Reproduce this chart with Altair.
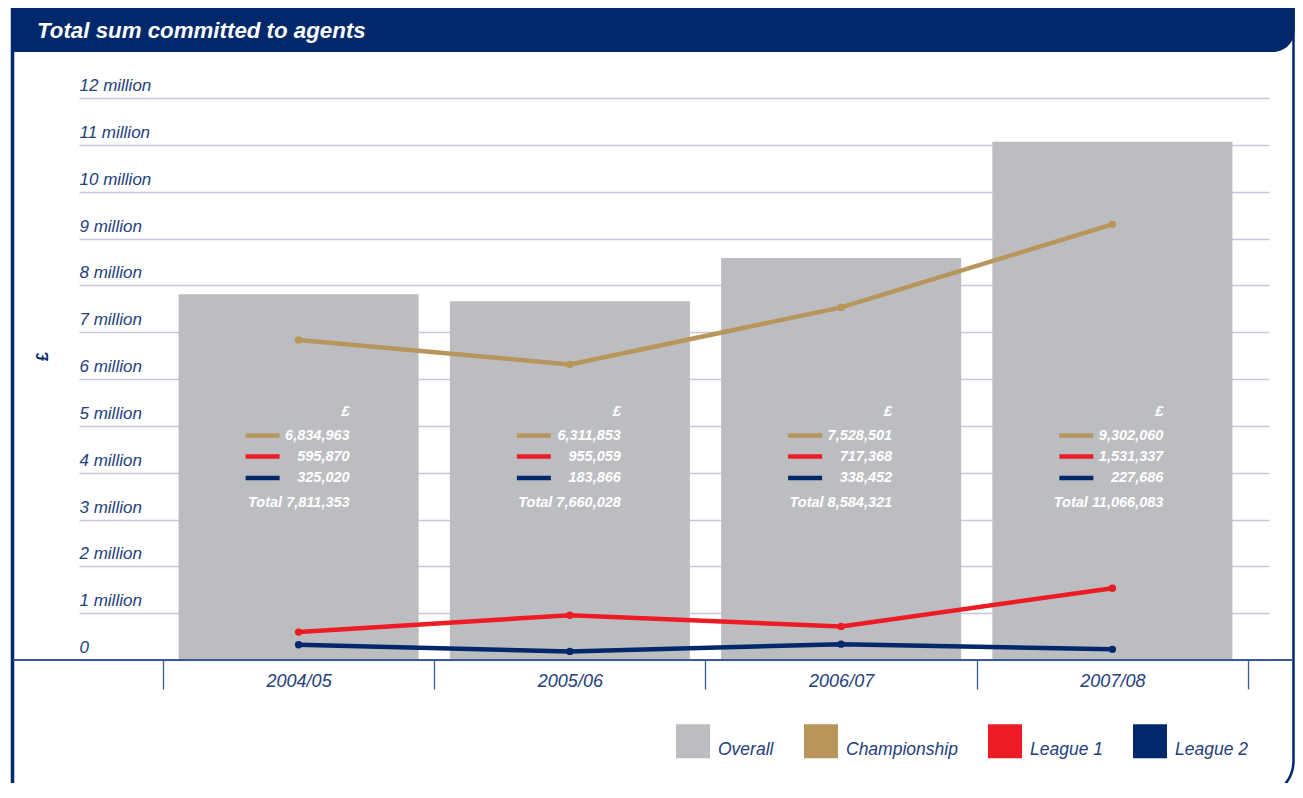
import altair as alt
import pandas as pd

# ---------------- data ----------------
years = ["2004/05", "2005/06", "2006/07", "2007/08"]
overall = [7811353, 7660028, 8584321, 11066083]
championship = [6834963, 6311853, 7528501, 9302060]
league1 = [595870, 955059, 717368, 1531337]
league2 = [325020, 183866, 338452, 227686]

series_names = ["Overall", "Championship", "League 1", "League 2"]
series_colors = ["#bcbdc1", "#b8955a", "#ed1c24", "#00286b"]
y_tick_values = [0, 1000000, 2000000, 3000000, 4000000, 5000000, 6000000,
                 7000000, 8000000, 9000000, 10000000, 11000000, 12000000]

NAVY = "#00286b"
TEXT = "#24407c"
AXIS = "#3b5b96"
GRID = "#c5c8dd"
FONT = "Liberation Sans"

bars_df = pd.DataFrame({"year": years, "series": "Overall", "value": overall})
lines_df = pd.concat([
    pd.DataFrame({"year": years, "series": "Championship", "value": championship}),
    pd.DataFrame({"year": years, "series": "League 1", "value": league1}),
    pd.DataFrame({"year": years, "series": "League 2", "value": league2}),
], ignore_index=True)

blank = alt.Data(values=[{}])

x_scale = alt.Scale(domain=years, paddingInner=0, paddingOuter=0.1935, align=0.8)
y_scale = alt.Scale(domain=[0, 12000000], nice=False)

x_axis = alt.Axis(
    title=None, domain=False, grid=False, tickBand="extent", tickSize=29,
    tickColor=AXIS, tickWidth=1.3, labelAngle=0, labelFont=FONT,
    labelFontSize=18, labelFontStyle="italic", labelColor=TEXT,
    labelPadding=-3, labelBaseline="alphabetic")
y_axis = alt.Axis(
    values=y_tick_values,
    labelExpr="datum.value == 0 ? '0' : format(datum.value / 1000000, 'd') + ' million'",
    labelAlign="left", labelPadding=0, ticks=False, tickSize=0, domain=False,
    grid=True, gridColor=GRID, gridWidth=1.5, labelFont=FONT, labelFontSize=17,
    labelFontStyle="italic", labelColor=TEXT, labelBaseline="alphabetic",
    labelOffset=-7.5, labelFlush=False, labelOverlap=False,
    title="£", titleAngle=270, titleX=-37, titleY=258, titleFont=FONT,
    titleFontSize=16, titleFontWeight="bold", titleColor=NAVY,
    titleAlign="center", titleBaseline="middle")

xa = alt.X("year:N", scale=x_scale, sort=years, axis=x_axis)
ya = alt.Y("value:Q", scale=y_scale, axis=y_axis)

# ---------------- decoration ----------------
frame = alt.Chart(blank).mark_rect(
    fillOpacity=0, stroke=NAVY, strokeWidth=2.5, cornerRadiusBottomRight=36
).encode(x=alt.value(-66.5), x2=alt.value(1214.5), y=alt.value(-89), y2=alt.value(699))

left_border = alt.Chart(blank).mark_rule(color=NAVY, strokeWidth=3.5).encode(
    x=alt.value(-66.5), y=alt.value(-90), y2=alt.value(700))

title_bar = alt.Chart(blank).mark_rect(
    color=NAVY, cornerRadiusBottomRight=38
).encode(x=alt.value(-68), x2=alt.value(1215.75), y=alt.value(-90), y2=alt.value(-46))

title_text = alt.Chart(blank).mark_text(
    text="Total sum committed to agents", align="left", baseline="alphabetic",
    font=FONT, fontSize=22.3, fontWeight="bold", fontStyle="italic", color="white"
).encode(x=alt.value(-42), y=alt.value(-60.3))

# ---------------- bars ----------------
bars = alt.Chart(bars_df).mark_bar(width=alt.RelativeBandSize(0.885)).encode(
    x=xa,
    y=ya,
    fill=alt.Fill("series:N", scale=alt.Scale(domain=series_names, range=series_colors),
                  legend=alt.Legend(
                      orient="none", legendX=597, legendY=626, direction="horizontal",
                      title=None, symbolType="square", symbolSize=1156,
                      symbolStrokeWidth=0, symbolOpacity=1, labelFont=FONT,
                      labelFontSize=17.5, labelFontStyle="italic", labelColor=TEXT,
                      labelOffset=8, columnPadding=30, labelBaseline="top", padding=0)),
)

baseline = alt.Chart(blank).mark_rule(color=AXIS, strokeWidth=1.8).encode(
    x=alt.value(-66), x2=alt.value(1214), y=alt.value(562))

# ---------------- lines ----------------
lines = alt.Chart(lines_df).mark_line(
    strokeWidth=4.5, point=alt.OverlayMarkDef(filled=True, size=55, opacity=1)
).encode(
    x=xa,
    y=ya,
    color=alt.Color("series:N", scale=alt.Scale(domain=series_names[1:], range=series_colors[1:]),
                    legend=None),
)

# ---------------- in-bar annotations ----------------
txt_style = dict(align="right", baseline="middle", dx=51, font=FONT, fontSize=14.5,
                 fontStyle="italic", fontWeight="bold", color="white")

pound = alt.Chart(bars_df).mark_text(text="£", **txt_style).encode(x=xa, y=alt.value(314))

swatch_shape = "M-2.65,-0.11L-0.95,-0.11L-0.95,0.11L-2.65,0.11Z"
row_layers = []
row_y = [337.5, 358.5, 380]
for name, col, ry in zip(series_names[1:], series_colors[1:], row_y):
    sub = lines_df[lines_df["series"] == name]
    row_layers.append(alt.Chart(sub).mark_point(
        shape=swatch_shape, size=1600, filled=True, strokeWidth=0, opacity=1, color=col
    ).encode(x=xa, y=alt.value(ry)))
    row_layers.append(alt.Chart(sub).mark_text(**txt_style).encode(
        x=xa, y=alt.value(ry), text=alt.Text("value:Q", format=",d")))

total_txt = alt.Chart(bars_df).transform_calculate(
    label="'Total ' + format(datum.value, ',d')"
).mark_text(**txt_style).encode(x=xa, y=alt.value(405), text="label:N")

chart = alt.layer(
    frame, left_border, title_bar, bars, baseline, lines, pound, *row_layers, total_txt, title_text
).properties(
    width=1190, height=562,
    padding={"left": 71, "top": 90, "right": 26, "bottom": 123},
    autosize=alt.AutoSizeParams(type="none"),
).configure(background="white", font=FONT).configure_view(stroke=None)

chart.save("out.html", embed_options={"renderer": "svg", "actions": False})
